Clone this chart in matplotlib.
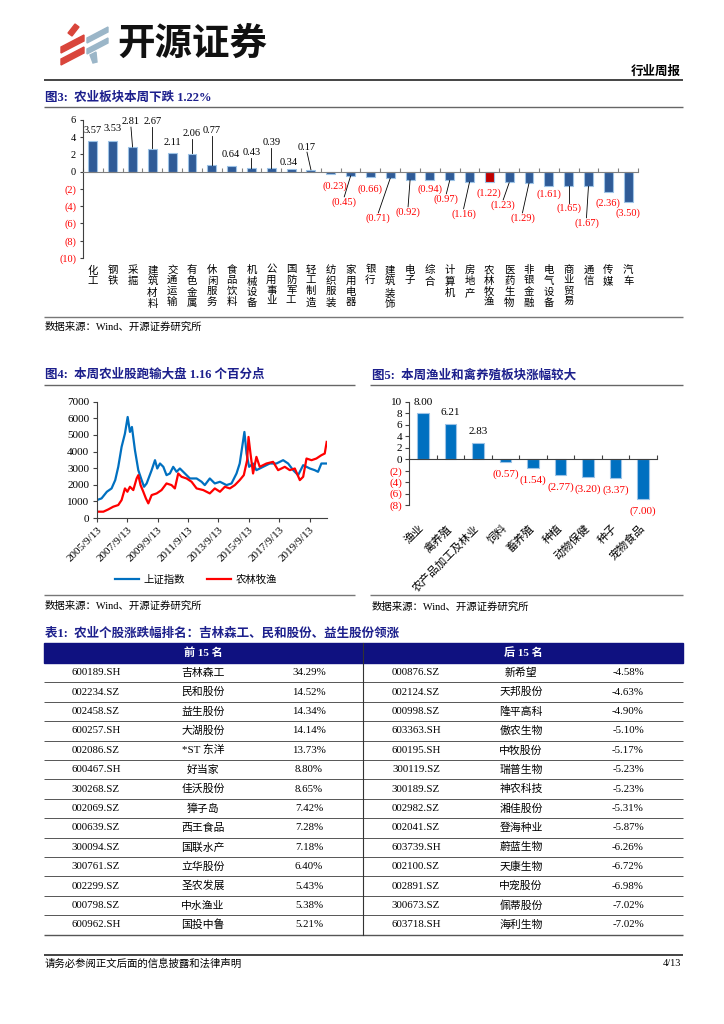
import matplotlib
matplotlib.use('Agg')
import matplotlib.pyplot as plt
from matplotlib.patches import Rectangle, Polygon

plt.rcParams['font.family'] = ['Liberation Serif', 'Noto Sans CJK SC']
plt.rcParams['axes.unicode_minus'] = False

W, H = 724, 1024
NAVY = '#1c1f8c'
RED = '#FF0000'

# ---------------- data ----------------
# fig 3: sector weekly change (%)
sector_names = ['化工', '钢铁', '采掘', '建筑材料', '交通运输', '有色金属', '休闲服务',
                '食品饮料', '机械设备', '公用事业', '国防军工', '轻工制造', '纺织服装',
                '家用电器', '银行', '建筑装饰', '电子', '综合', '计算机', '房地产',
                '农林牧渔', '医药生物', '非银金融', '电气设备', '商业贸易', '通信',
                '传媒', '汽车']
sector_chg = [3.57, 3.53, 2.81, 2.67, 2.11, 2.06, 0.77, 0.64, 0.43, 0.39, 0.34, 0.17,
              -0.23, -0.45, -0.66, -0.71, -0.92, -0.94, -0.97, -1.16, -1.22, -1.23,
              -1.29, -1.61, -1.65, -1.67, -2.36, -3.50]

# fig 4: index level, time in decimal years
sh_t = [2005.70, 2006.00, 2006.35, 2006.66, 2006.90, 2007.10, 2007.32, 2007.54, 2007.72,
        2007.87, 2008.00, 2008.20, 2008.42, 2008.64, 2008.80, 2008.97, 2009.30, 2009.52,
        2009.67, 2009.85, 2010.07, 2010.28, 2010.50, 2010.72, 2010.94, 2011.16, 2011.49,
        2011.82, 2012.26, 2012.59, 2012.80, 2013.13, 2013.46, 2013.80, 2014.23, 2014.56,
        2014.89, 2015.10, 2015.28, 2015.41, 2015.55, 2015.72, 2015.98, 2016.20, 2016.64,
        2017.08, 2017.52, 2017.96, 2018.29, 2018.62, 2018.95, 2019.28, 2019.72, 2020.04,
        2020.26, 2020.48, 2020.83]
sh_v = [1080, 1180, 1580, 1780, 2280, 3080, 4280, 5080, 6080, 5180, 5480, 4080, 2880,
        2280, 1880, 2080, 2880, 3480, 2980, 3280, 3080, 2580, 2680, 3080, 2780, 2980,
        2680, 2380, 2380, 2180, 1980, 2380, 2080, 2180, 1980, 2080, 2680, 3280, 4380,
        5180, 3880, 3080, 3280, 2880, 3080, 3280, 3280, 3480, 3280, 2880, 2580, 3180,
        2980, 2880, 2780, 3280, 3280]
ag_t = [2005.70, 2006.12, 2006.45, 2006.77, 2007.10, 2007.32, 2007.54, 2007.70, 2007.87,
        2008.09, 2008.31, 2008.42, 2008.57, 2008.75, 2008.92, 2009.08, 2009.30, 2009.63,
        2009.95, 2010.28, 2010.61, 2010.83, 2011.05, 2011.27, 2011.60, 2011.93, 2012.26,
        2012.70, 2013.13, 2013.46, 2013.80, 2014.12, 2014.45, 2014.78, 2015.10, 2015.37,
        2015.59, 2015.68, 2015.81, 2015.98, 2016.20, 2016.42, 2016.86, 2017.30, 2017.63,
        2018.07, 2018.40, 2018.73, 2019.06, 2019.28, 2019.50, 2019.83, 2020.15, 2020.48,
        2020.70, 2020.83]
ag_v = [380, 380, 520, 680, 780, 1080, 1780, 1580, 1880, 1680, 2380, 2580, 1980, 1580,
        1180, 880, 1380, 1480, 1680, 2080, 1980, 1780, 2680, 2480, 2380, 2180, 1780, 1680,
        1480, 1780, 1580, 1880, 1780, 1980, 2280, 2580, 3480, 4880, 3880, 2680, 3680, 3080,
        3280, 3380, 2880, 3080, 2880, 2980, 2280, 2480, 3580, 3480, 3580, 3780, 3880, 4580]
date_ticks = [2005.7, 2007.7, 2009.7, 2011.7, 2013.7, 2015.7, 2017.7, 2019.7]
date_labels = ['2005/9/13', '2007/9/13', '2009/9/13', '2011/9/13', '2013/9/13',
               '2015/9/13', '2017/9/13', '2019/9/13']

# fig 5: sub-sector weekly change (%)
sub_names = ['渔业', '禽养殖', '农产品加工及林业', '饲料', '畜养殖', '种植', '动物保健',
             '种子', '宠物食品']
sub_chg = [8.00, 6.21, 2.83, -0.57, -1.54, -2.77, -3.20, -3.37, -7.00]

# table 1
top_codes = ['600189.SH', '002234.SZ', '002458.SZ', '600257.SH', '002086.SZ', '600467.SH',
             '300268.SZ', '002069.SZ', '000639.SZ', '300094.SZ', '300761.SZ', '002299.SZ',
             '000798.SZ', '600962.SH']
top_names = ['吉林森工', '民和股份', '益生股份', '大湖股份', '*ST 东洋', '好当家', '佳沃股份',
             '獐子岛', '西王食品', '国联水产', '立华股份', '圣农发展', '中水渔业', '国投中鲁']
top_pct = [34.29, 14.52, 14.34, 14.14, 13.73, 8.80, 8.65, 7.42, 7.28, 7.18, 6.40, 5.43,
           5.38, 5.21]
bot_codes = ['000876.SZ', '002124.SZ', '000998.SZ', '603363.SH', '600195.SH', '300119.SZ',
             '300189.SZ', '002982.SZ', '002041.SZ', '603739.SH', '002100.SZ', '002891.SZ',
             '300673.SZ', '603718.SH']
bot_names = ['新希望', '天邦股份', '隆平高科', '傲农生物', '中牧股份', '瑞普生物', '神农科技',
             '湘佳股份', '登海种业', '蔚蓝生物', '天康生物', '中宠股份', '佩蒂股份', '海利生物']
bot_pct = [-4.58, -4.63, -4.90, -5.10, -5.17, -5.23, -5.23, -5.31, -5.87, -6.26, -6.72,
           -6.98, -7.02, -7.02]

# label placement for fig 3 (layout only): label y, x shift, leader line on/off
lab3_y = [4.75, 5.06, 5.76, 5.76, 3.33, 4.37, 4.72, 1.94, 2.17, 3.33, 1.12, 2.86, -1.66,
          -3.51, -2.0, -5.37, -4.67, -2.0, -3.16, -4.9, -2.47, -3.86, -5.37, -2.58, -4.2,
          -5.94, -3.63, -4.78]
lab3_dx = [0, 0, -0.08, 0, 0, 0, 0, -0.05, 0, 0, -0.1, -0.2, 0.22, -0.32, 0, -0.6, -0.1,
           0, -0.17, -0.3, 0, -0.3, -0.33, 0, 0, -0.1, 0, 0]
lead3 = [0, 0, 1, 1, 0, 1, 1, 0, 1, 1, 0, 1, 0, 1, 0, 1, 1, 0, 1, 1, 0, 1, 1, 0, 1, 1, 0, 0]


def fmt(v):
    return f'{v:.2f}' if v >= 0 else f'({-v:.2f})'


def tick_fmt(v):
    return f'{v:g}' if v >= 0 else f'({-v:g})'


fig = plt.figure(figsize=(7.24, 10.24), dpi=100)
bg = fig.add_axes([0, 0, 1, 1], zorder=-5)
bg.set_xlim(0, W)
bg.set_ylim(H, 0)
bg.axis('off')


def px_axes(l, t, r, b):
    return fig.add_axes([l / W, 1 - b / H, (r - l) / W, (b - t) / H])


def hline(y, x0, x1, lw=1.0, color='#555555'):
    bg.plot([x0, x1], [y, y], color=color, lw=lw, solid_capstyle='butt')


# ---------------- header ----------------
red_logo = '#D9453B'
blue_logo = '#9BB6C8'
bg.add_patch(Polygon([(68, 33), (75, 24), (79, 27), (72, 36)], color=red_logo))
for y0 in (47, 59):
    bg.add_patch(Polygon([(61, y0), (84, y0 - 12), (84, y0 - 6), (61, y0 + 6)], color=red_logo))
for y0 in (38, 49):
    bg.add_patch(Polygon([(87, y0), (108, y0 - 11), (108, y0 - 6), (87, y0 + 5)], color=blue_logo))
bg.add_patch(Polygon([(90, 55), (96, 52), (97, 62), (93, 63)], color=blue_logo))
bg.text(117, 43, '开源证券', fontsize=27, fontweight='bold', family='Noto Sans CJK SC',
        ha='left', va='center', color='#111111')
bg.text(681, 72, '行业周报', fontsize=9, fontweight='bold', ha='right', va='center')
hline(80, 44, 683, lw=1.4, color='#444444')

# ---------------- fig 3 ----------------
bg.text(45, 98, '图3:  农业板块本周下跌 1.22%', fontsize=9, fontweight='bold', color=NAVY,
        ha='left', va='center')
hline(107, 44, 683, lw=1.0, color='#666666')

ax3 = px_axes(83, 119.9, 638, 258)
xs = list(range(len(sector_names)))
cols = ['#C00000' if n == '农林牧渔' else '#2F5B97' for n in sector_names]
ax3.bar(xs, sector_chg, width=0.45, color=cols, edgecolor='#9DC3E6', linewidth=0.8, zorder=2)
ax3.set_xlim(-0.5, len(xs) - 0.5)
ax3.set_ylim(-10, 6)
ax3.spines['bottom'].set_position(('data', 0))
ax3.spines['bottom'].set_color('#808080')
ax3.spines['left'].set_color('#404040')
for s in ('top', 'right'):
    ax3.spines[s].set_visible(False)
ax3.set_xticks([i - 0.5 for i in range(len(xs) + 1)])
ax3.tick_params(axis='x', direction='in', length=3, color='#808080', labelbottom=False)
yt = list(range(-10, 7, 2))
ax3.set_yticks(yt)
ax3.set_yticklabels([tick_fmt(v) for v in yt], fontsize=7.5)
ax3.tick_params(axis='y', length=2, pad=3, color='#404040')
for lbl, v in zip(ax3.get_yticklabels(), yt):
    lbl.set_color(RED if v < 0 else 'black')
for i, v in enumerate(sector_chg):
    lx = i + lab3_dx[i]
    ly = lab3_y[i]
    ax3.text(lx, ly, fmt(v), fontsize=7.5, ha='center', va='center',
             color='black' if v >= 0 else RED, clip_on=False)
    if lead3[i]:
        if v >= 0:
            ax3.plot([lx, i], [ly - 0.6, v + 0.05], color='black', lw=0.6)
        else:
            ax3.plot([i, lx], [v - 0.05, ly + 0.6], color='black', lw=0.6)
    ax3.text(i, -10.85, '\n'.join(sector_names[i]), fontsize=7.5, ha='center', va='top',
             linespacing=1.15, clip_on=False)

hline(317, 44, 683, lw=1.0, color='#777777')
bg.text(45, 327, '数据来源：Wind、开源证券研究所', fontsize=7.5, ha='left', va='center')

# ---------------- fig 4 ----------------
bg.text(45, 375, '图4:  本周农业股跑输大盘 1.16 个百分点', fontsize=9, fontweight='bold',
        color=NAVY, ha='left', va='center')
hline(385, 44, 355, lw=1.0, color='#666666')

ax4 = px_axes(97, 401.7, 327, 518)
l1, = ax4.plot(sh_t, sh_v, color='#0070C0', lw=1.6, label='上证指数')
l2, = ax4.plot(ag_t, ag_v, color='#FF0000', lw=1.6, label='农林牧渔')
ax4.set_xlim(2005.7, 2020.85)
ax4.set_ylim(0, 7000)
ax4.set_yticks(range(0, 7001, 1000))
ax4.set_yticklabels([str(v) for v in range(0, 7001, 1000)], fontsize=8)
ax4.set_xticks(date_ticks)
ax4.set_xticklabels(date_labels, fontsize=8, rotation=45, ha='right',
                    rotation_mode='anchor')
ax4.tick_params(axis='both', length=3, pad=2.5, color='#404040')
for s in ('top', 'right'):
    ax4.spines[s].set_visible(False)
for s in ('left', 'bottom'):
    ax4.spines[s].set_color('#404040')
fig.legend(handles=[l1, l2], loc='center', bbox_to_anchor=(196 / W, 1 - 580 / H), ncol=2,
           frameon=False, fontsize=7.5, handlelength=2.3, handletextpad=0.4,
           columnspacing=2.2)
hline(595, 44, 355, lw=1.0, color='#777777')
bg.text(45, 606, '数据来源：Wind、开源证券研究所', fontsize=7.5, ha='left', va='center')

# ---------------- fig 5 ----------------
bg.text(372, 375, '图5:  本周渔业和禽养殖板块涨幅较大', fontsize=9, fontweight='bold',
        color=NAVY, ha='left', va='center')
hline(385, 370, 683, lw=1.0, color='#666666')

ax5 = px_axes(409, 401.8, 657, 505)
x5 = list(range(len(sub_names)))
ax5.bar(x5, sub_chg, width=0.42, color='#0070C0', edgecolor='#9DC3E6', linewidth=0.8, zorder=2)
ax5.set_xlim(-0.5, len(x5) - 0.5)
ax5.set_ylim(-8, 10)
ax5.spines['bottom'].set_position(('data', 0))
for s in ('top', 'right'):
    ax5.spines[s].set_visible(False)
for s in ('left', 'bottom'):
    ax5.spines[s].set_color('#404040')
ax5.set_xticks([i - 0.5 for i in range(len(x5) + 1)])
ax5.tick_params(axis='x', direction='in', length=3, color='#404040', labelbottom=False)
yt5 = list(range(-8, 11, 2))
ax5.set_yticks(yt5)
ax5.set_yticklabels([tick_fmt(v) for v in yt5], fontsize=8)
ax5.tick_params(axis='y', length=3, pad=2, color='#404040')
for lbl, v in zip(ax5.get_yticklabels(), yt5):
    lbl.set_color(RED if v < 0 else 'black')
for i, v in enumerate(sub_chg):
    ax5.text(i, v + (1.95 if v >= 0 else -2.05), fmt(v), fontsize=8, ha='center',
             va='center', color='black' if v >= 0 else RED, clip_on=False)
    ax5.text(i - 0.14, -11.1, sub_names[i], fontsize=8, rotation=45, ha='right', va='top',
             rotation_mode='anchor', clip_on=False)
hline(595, 370, 683, lw=1.0, color='#777777')
bg.text(372, 607, '数据来源：Wind、开源证券研究所', fontsize=7.5, ha='left', va='center')

# ---------------- table 1 ----------------
bg.text(45, 634, '表1:  农业个股涨跌幅排名：吉林森工、民和股份、益生股份领涨', fontsize=9,
        fontweight='bold', color=NAVY, ha='left', va='center')
tab_l, tab_r, tab_mid = 44, 683, 363
head_t, head_b = 643, 663
row_h = 19.4
bg.add_patch(Rectangle((tab_l, head_t), tab_r - tab_l, head_b - head_t, color='#0F1180'))
bg.text((tab_l + tab_mid) / 2, (head_t + head_b) / 2, '前 15 名', color='white', fontsize=8,
        fontweight='bold', ha='center', va='center')
bg.text((tab_mid + tab_r) / 2, (head_t + head_b) / 2, '后 15 名', color='white', fontsize=8,
        fontweight='bold', ha='center', va='center')
col_x = [96, 203, 309, 416, 521, 628]
n_rows = len(top_codes)
for r in range(n_rows):
    yc = head_b + row_h * (r + 0.5)
    cells = [top_codes[r], top_names[r], f'{top_pct[r]:.2f}%',
             bot_codes[r], bot_names[r], f'{bot_pct[r]:.2f}%']
    for cx, txt in zip(col_x, cells):
        bg.text(cx, yc, txt, fontsize=7.8, ha='center', va='center')
    yb = head_b + row_h * (r + 1)
    hline(yb, tab_l, tab_r, lw=0.7 if r < n_rows - 1 else 1.0, color='#555555')
bg.plot([tab_mid, tab_mid], [head_t, head_b + row_h * n_rows], color='#333333', lw=0.8)

# ---------------- footer ----------------
hline(955, 44, 683, lw=1.4, color='#444444')
bg.text(45, 964, '请务必参阅正文后面的信息披露和法律声明', fontsize=7.5, ha='left', va='center')
bg.text(681, 964, '4/13', fontsize=7.5, ha='right', va='center')

fig.savefig('out.png', dpi=100)
